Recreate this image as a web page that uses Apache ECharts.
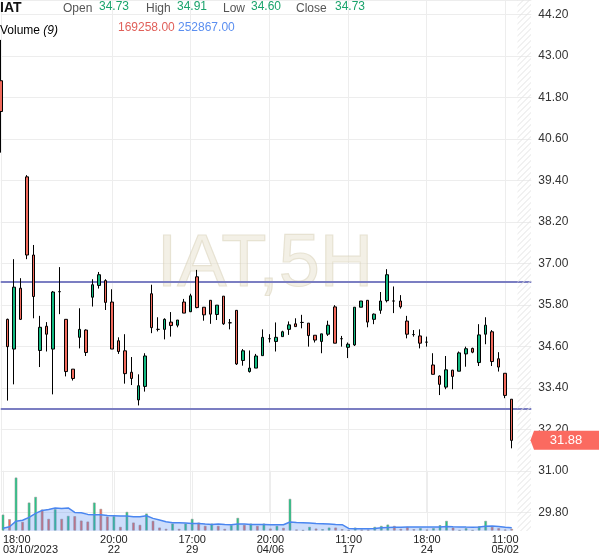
<!DOCTYPE html>
<html>
<head>
<meta charset="utf-8">
<title>IAT 5H</title>
<script src="https://cdn.jsdelivr.net/npm/echarts@6/dist/echarts.min.js"></script>
<style>
  html, body { margin: 0; padding: 0; background: #fff; }
  #chart { width: 599px; height: 557px; }
</style>
</head>
<body>
<div id="chart"></div>
<script>
// time axis: slot index -> label
const tickIdx = [0, 17, 29, 41, 53, 65, 77];
const tickText = ['18:00\n03/10/2023', '20:00\n22', '17:00\n29', '20:00\n04/06', '11:00\n17', '18:00\n24', '11:00\n05/02'];
const slotCount = 82; // 79 candles + empty room on the right

// candles: [open, close, low, high]
const ohlc = [
  [42.28, 41.39, 40.20, 43.46], [35.38, 34.59, 33.03, 35.40], [34.52, 36.31, 33.50, 37.12], [36.28, 35.38, 35.36, 36.57],
  [39.50, 37.24, 37.12, 39.55], [37.24, 36.04, 35.41, 37.53], [34.48, 35.15, 34.00, 35.48], [35.18, 34.95, 34.45, 35.30],
  [34.52, 36.17, 33.21, 36.20], [36.18, 36.18, 35.53, 36.89], [35.38, 33.87, 33.73, 35.38], [33.94, 33.67, 33.61, 33.94],
  [34.86, 35.09, 34.54, 35.70], [35.07, 34.42, 34.32, 35.09], [36.02, 36.38, 35.75, 36.54], [36.36, 36.67, 36.27, 36.75],
  [36.50, 35.87, 35.65, 36.54], [35.88, 34.52, 34.52, 36.25], [34.76, 34.45, 34.38, 34.86], [34.47, 33.81, 33.52, 34.95],
  [33.85, 33.67, 33.48, 34.29], [33.05, 33.46, 32.89, 33.79], [33.44, 34.32, 33.29, 34.40], [36.12, 35.14, 34.98, 36.38],
  [35.09, 35.09, 35.03, 35.44], [35.09, 35.38, 34.80, 35.41], [35.30, 35.20, 34.88, 35.59], [35.21, 35.36, 35.15, 35.36],
  [35.88, 35.56, 35.56, 35.97], [35.60, 36.06, 35.59, 36.12], [36.61, 35.72, 35.70, 36.81], [35.73, 35.51, 35.34, 35.73],
  [35.93, 35.53, 35.25, 35.93], [35.52, 35.79, 35.36, 35.79], [36.05, 35.25, 35.22, 36.05], [35.28, 35.28, 35.09, 35.39],
  [35.64, 34.09, 34.06, 35.64], [34.19, 34.47, 34.04, 34.52], [33.87, 33.97, 33.84, 34.48], [33.97, 34.32, 33.97, 34.38],
  [34.33, 34.86, 34.33, 35.09], [34.82, 34.82, 34.71, 34.95], [34.74, 34.86, 34.45, 35.29], [34.88, 35.02, 34.88, 35.05],
  [35.09, 35.22, 34.93, 35.32], [35.25, 35.17, 35.17, 35.41], [35.29, 35.29, 35.12, 35.51], [35.27, 34.91, 34.59, 35.27],
  [34.92, 34.78, 34.71, 34.92], [34.74, 34.96, 34.40, 34.96], [34.95, 35.21, 34.90, 35.34], [35.74, 34.69, 34.69, 35.79],
  [34.82, 34.82, 34.59, 34.90], [34.57, 34.66, 34.26, 34.71], [34.64, 35.73, 34.61, 35.73], [35.73, 35.91, 35.73, 35.91],
  [35.93, 35.30, 35.15, 35.93], [35.38, 35.53, 35.24, 35.55], [35.64, 35.91, 35.54, 36.17], [35.92, 36.67, 35.87, 36.83],
  [35.91, 35.91, 35.56, 36.33], [35.91, 35.74, 35.69, 36.08], [35.33, 34.95, 34.83, 35.48], [34.94, 34.94, 34.88, 35.07],
  [34.90, 34.69, 34.54, 35.09], [34.72, 34.72, 34.59, 34.88], [34.06, 33.79, 33.79, 34.40], [33.74, 33.50, 33.19, 33.76],
  [33.42, 33.92, 33.36, 34.32], [33.91, 33.73, 33.36, 33.92], [33.88, 34.41, 33.88, 34.45], [34.38, 34.53, 34.01, 34.59],
  [34.54, 34.43, 34.40, 34.56], [34.13, 34.93, 34.03, 35.24], [34.95, 35.21, 34.66, 35.44], [35.02, 34.16, 34.03, 35.07],
  [34.24, 34.00, 33.87, 34.43], [33.82, 33.18, 33.10, 33.82], [33.07, 31.88, 31.65, 33.07]
];

const volumes = [
  1386000, 994000, 4530000, 765000, 2405000, 2890000, 1810000, 1020000, 1844000, 1020000,
  1275000, 1249000, 875000, 790000, 2405000, 1870000, 1215000, 1249000, 340000, 1615000,
  705000, 510000, 1470000, 850000, 280000, 170000, 620000, 170000, 620000, 1020000,
  705000, 425000, 620000, 425000, 170000, 484000, 1105000, 510000, 620000, 425000,
  620000, 195000, 425000, 255000, 2720000, 110000, 60000, 340000, 195000, 144000,
  280000, 280000, 144000, 60000, 280000, 110000, 110000, 340000, 425000, 535000,
  425000, 170000, 340000, 144000, 229000, 110000, 229000, 484000, 850000, 280000,
  60000, 229000, 60000, 399000, 850000, 340000, 229000, 110000, 169258
];
// 1 = green bar, 0 = red bar
const volUp = [
  1, 0, 1, 0, 1, 1, 0, 0, 1, 0, 1, 0, 0, 0, 1, 0, 0, 1, 0, 1,
  0, 0, 1, 0, 0, 0, 1, 0, 1, 1, 0, 0, 1, 0, 0, 1, 1, 0, 1, 0,
  1, 0, 1, 0, 1, 0, 0, 1, 0, 1, 1, 0, 0, 0, 1, 0, 0, 1, 1, 1,
  0, 0, 0, 0, 1, 0, 1, 1, 1, 0, 0, 1, 0, 1, 1, 0, 0, 0, 0
];
// Volume (9) average
const volMA = [
  212000, 340000, 808000, 893000, 1131000, 1471000, 1726000, 1811000, 1930000, 1896000,
  1930000, 1556000, 1530000, 1386000, 1360000, 1360000, 1301000, 1275000, 1250000, 1250000,
  1190000, 1190000, 1275000, 1046000, 910000, 765000, 680000, 680000, 655000, 621000,
  621000, 570000, 536000, 570000, 536000, 510000, 570000, 570000, 536000, 536000,
  536000, 510000, 510000, 510000, 740000, 706000, 680000, 655000, 621000, 595000,
  570000, 536000, 510000, 196000, 170000, 170000, 170000, 196000, 255000, 272000,
  289000, 289000, 323000, 306000, 323000, 323000, 306000, 315000, 349000, 332000,
  323000, 306000, 298000, 315000, 383000, 391000, 366000, 289000, 252867
];

const levels = [36.46, 32.79];
const lastPrice = 31.88;
const headerNames = ['Open', 'High', 'Low', 'Close'];
const headerValues = ['34.73', '34.91', '34.60', '34.73'];
const volHeader = ['169258.00', '252867.00'];

const FONT = 'Liberation Sans, Arial, sans-serif';
const GREEN = '#12b981';
const RED = '#f26a5c';

const slots = [];
for (let i = 0; i < slotCount; i++) slots.push(String(i));
const showTick = (i) => tickIdx.indexOf(i) >= 0;

// hatch pattern for the right margin strip
const pat = document.createElement('canvas');
pat.width = 6; pat.height = 6;
const pctx = pat.getContext('2d');
pctx.strokeStyle = '#e2e2e2';
pctx.lineWidth = 1;
pctx.beginPath();
pctx.moveTo(0, 6); pctx.lineTo(6, 0);
pctx.moveTo(-1, 1); pctx.lineTo(1, -1);
pctx.moveTo(5, 7); pctx.lineTo(7, 5);
pctx.stroke();

const chart = echarts.init(document.getElementById('chart'));

const headerX = [63, 146, 223, 296];
const headerValX = [99, 177, 251, 335];
const header = [
  { id: 'sym', type: 'text', x: 0, y: 8.5, z: 10, style: { text: 'IAT', font: 'bold 14px ' + FONT, fill: '#111', verticalAlign: 'middle' } },
  { id: 'volName', type: 'text', x: 0, y: 31, z: 10, style: {
      text: '{a|Volume }{b|(9)}', verticalAlign: 'middle',
      rich: { a: { fontSize: 12, fontFamily: FONT, color: '#222' }, b: { fontSize: 12, fontFamily: FONT, fontStyle: 'italic', color: '#222' } } } },
  { id: 'vol0', type: 'text', x: 118, y: 27.5, z: 10, style: { text: volHeader[0], font: '12px ' + FONT, fill: '#e0605a', verticalAlign: 'middle' } },
  { id: 'vol1', type: 'text', x: 178, y: 27.5, z: 10, style: { text: volHeader[1], font: '12px ' + FONT, fill: '#5b8ff0', verticalAlign: 'middle' } }
];
headerNames.forEach((n, k) => {
  header.push({ id: 'hn' + k, type: 'text', x: headerX[k], y: 9, z: 10, style: { text: n, font: '12px ' + FONT, fill: '#555', verticalAlign: 'middle' } });
  header.push({ id: 'hv' + k, type: 'text', x: headerValX[k], y: 6.8, z: 10, style: { text: headerValues[k], font: '12px ' + FONT, fill: '#1aa36c', verticalAlign: 'middle' } });
});

chart.setOption({
  animation: false,
  backgroundColor: '#fff',
  textStyle: { fontFamily: FONT },
  grid: [
    { left: 0.75, right: 67.7, top: 0, bottom: 44.7 },
    { left: 0.75, right: 67.7, top: 470.7, bottom: 26.3 }
  ],
  xAxis: [
    {
      type: 'category', gridIndex: 0, data: slots, boundaryGap: false,
      axisLine: { show: false }, axisTick: { show: false }, axisLabel: { show: false },
      splitLine: { show: true, interval: (i) => showTick(i), lineStyle: { color: '#ededed' } }
    },
    {
      type: 'category', gridIndex: 1, data: slots, boundaryGap: false,
      axisLine: { show: false }, axisTick: { show: false },
      splitLine: { show: true, interval: (i) => showTick(i), lineStyle: { color: '#ededed' } },
      axisLabel: {
        interval: (i) => showTick(i),
        formatter: (v, i) => { const k = tickIdx.indexOf(Number(v)); return k >= 0 ? tickText[k] : ''; },
        fontSize: 11, lineHeight: 10, color: '#222', margin: 4, alignMinLabel: 'left'
      }
    }
  ],
  yAxis: [
    {
      type: 'value', gridIndex: 0, position: 'right', scale: true,
      min: 29.8, max: 44.614, interval: 1.2,
      axisLine: { show: false }, axisTick: { show: false },
      axisLabel: { showMaxLabel: false, showMinLabel: true, hideOverlap: false, margin: 7, fontSize: 12, color: '#333', formatter: (v) => v.toFixed(2) },
      splitLine: { lineStyle: { color: '#ededed' } }
    },
    {
      type: 'value', gridIndex: 1, min: 0, max: 5100000, show: false, splitLine: { show: false }
    }
  ],
  graphic: [
    { id: 'wm', type: 'text', x: 265, y: 265.5, z: 1, silent: true, style: {
        text: 'IAT,5H', font: '74px ' + FONT, align: 'center', verticalAlign: 'middle',
        fill: 'rgba(232,225,205,0.5)', stroke: 'rgba(205,195,165,0.45)', lineWidth: 1.2 } },
    { id: 'hatch', type: 'rect', x: 517.5, y: 0, z: 50, silent: true, shape: { width: 13.5, height: 531 },
      style: { fill: { image: pat, repeat: 'repeat' } } }
  ].concat(header),
  series: [
    {
      type: 'candlestick', xAxisIndex: 0, yAxisIndex: 0, data: ohlc, barWidth: 3, z: 5,
      itemStyle: {
        color: GREEN, color0: RED, borderColor: '#000', borderColor0: '#000',
        borderColorDoji: '#000', borderWidth: 1
      },
      markLine: {
        silent: true, symbol: 'none', animation: false,
        label: { show: false },
        lineStyle: { color: '#7b7ec2', width: 2, type: 'solid' },
        data: levels.map((v) => ({ yAxis: v }))
      }
    },
    {
      type: 'bar', xAxisIndex: 1, yAxisIndex: 1, barWidth: 3, z: 3,
      data: volumes.map((v, i) => ({
        value: v,
        itemStyle: { color: volUp[i] ? '#20c987' : '#f0695d', borderColor: 'rgba(150,150,150,0.55)', borderWidth: 1 }
      }))
    },
    {
      type: 'line', xAxisIndex: 1, yAxisIndex: 1, data: volMA, symbol: 'none', z: 4,
      lineStyle: { color: '#4a86f0', width: 1.5 },
      areaStyle: { color: 'rgba(74,134,240,0.4)' }
    }
  ]
});

// last price tag on the price axis
const py = chart.convertToPixel({ yAxisIndex: 0 }, lastPrice);
chart.setOption({
  graphic: [
    { id: 'tagBox', type: 'polygon', z: 60, silent: true,
      shape: { points: [[530.5, py], [534, py - 9.5], [599, py - 9.5], [599, py + 9.5], [534, py + 9.5]] },
      style: { fill: '#fb6a60' } },
    { id: 'tagText', type: 'text', x: 566, y: py + 0.5, z: 61, silent: true,
      style: { text: lastPrice.toFixed(2), font: '13px ' + FONT, fill: '#fff', align: 'center', verticalAlign: 'middle' } }
  ]
});
</script>
</body>
</html>
